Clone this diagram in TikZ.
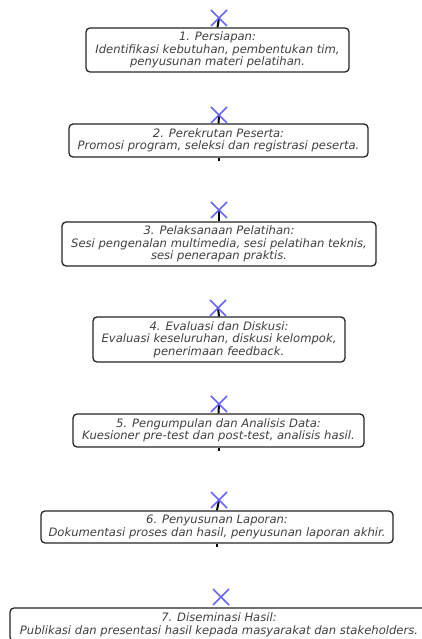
\documentclass[tikz,border=0pt]{standalone}
\usepackage{fontspec}
\setmainfont{DejaVu Sans}
\usetikzlibrary{calc}
\begin{document}
\begin{tikzpicture}[x=1pt,y=1pt,
  stepbox/.style={draw=black!85,line width=1.3pt,rounded corners=4pt,fill=white,
    align=center,inner sep=0pt,font=\fontsize{11.6}{12.6}\selectfont\itshape,text=black!75},
  xmark/.style={draw=blue!60!white,line width=1.6pt},
  stub/.style={draw=black,line width=2pt}]
\useasboundingbox (0,0) rectangle (422,639);
% boxes
\node[stepbox,minimum width=263,minimum height=44] (b1) at (217.5,589) {1. Persiapan:\\Identifikasi kebutuhan, pembentukan tim,\\penyusunan materi pelatihan.};
\node[stepbox,minimum width=299,minimum height=33] (b2) at (218.5,498.5) {2. Perekrutan Peserta:\\Promosi program, seleksi dan registrasi peserta.};
\node[stepbox,minimum width=314,minimum height=44] (b3) at (219,395) {3. Pelaksanaan Pelatihan:\\Sesi pengenalan multimedia, sesi pelatihan teknis,\\sesi penerapan praktis.};
\node[stepbox,minimum width=252,minimum height=45] (b4) at (219,299.5) {4. Evaluasi dan Diskusi:\\Evaluasi keseluruhan, diskusi kelompok,\\penerimaan feedback.};
\node[stepbox,minimum width=291,minimum height=33] (b5) at (218.5,208.5) {5. Pengumpulan dan Analisis Data:\\Kuesioner pre-test dan post-test, analisis hasil.};
\node[stepbox,minimum width=352,minimum height=32] (b6) at (217,112) {6. Penyusunan Laporan:\\Dokumentasi proses dan hasil, penyusunan laporan akhir.};
\node[stepbox,minimum width=418,minimum height=33] (b7) at (219,14.5) {7. Diseminasi Hasil:\\Publikasi dan presentasi hasil kepada masyarakat dan stakeholders.};
% marker coordinates
\coordinate (x1) at (219,621);
\coordinate (x2) at (219,524);
\coordinate (x3) at (219,429);
\coordinate (x4) at (218,331);
\coordinate (x5) at (219,235);
\coordinate (x6) at (219,139);
\coordinate (x7) at (221,42);
% stubs into boxes
\foreach \i in {1,...,6}{\draw[stub] (x\i) -- (b\i.north);}
% stubs below boxes
\coordinate (s2) at ($(b2.south)+(0,-3.5)$);
\coordinate (s5) at ($(b5.south)+(0,-3)$);
\coordinate (s6) at ($(b6.south)+(0,-3)$);
\draw[stub] (b2.south) -- (s2);
\draw[stub] (b5.south) -- (s5);
\draw[stub] (b6.south) -- (s6);
% x markers
\foreach \i in {1,...,7}{\draw[xmark] ($(x\i)+(-8,-8)$) -- ($(x\i)+(8,8)$) ($(x\i)+(-8,8)$) -- ($(x\i)+(8,-8)$);}
\end{tikzpicture}
\end{document}
